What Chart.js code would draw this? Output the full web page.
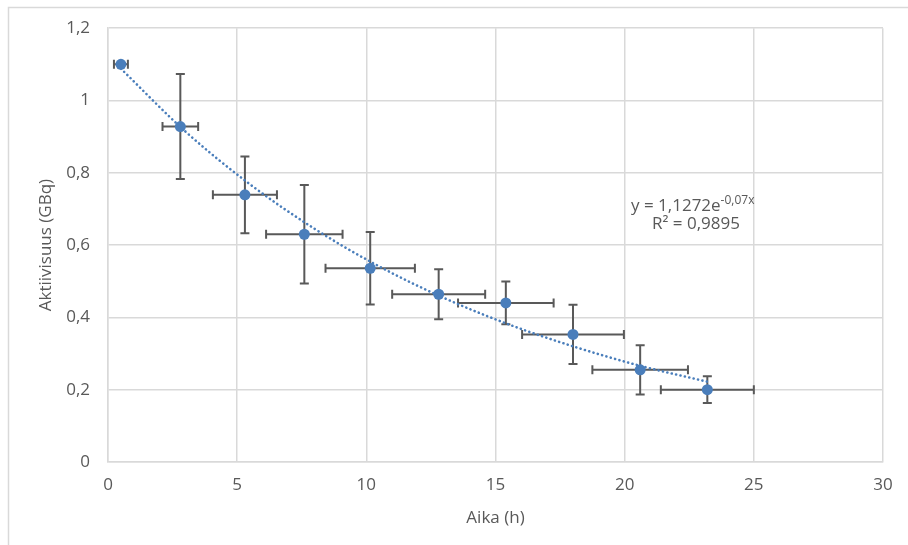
<!DOCTYPE html>
<html>
<head>
<meta charset="utf-8">
<script src="https://cdn.jsdelivr.net/npm/chart.js@4.4.1/dist/chart.umd.min.js"></script>
<style>
    html, body { margin: 0; padding: 0; background: #fff; }
    #wrap { width: 908px; height: 545px; }
</style>
</head>
<body>
<div id="wrap"><canvas id="myChart" width="908" height="545"></canvas></div>
<script>
// measured points (hours, GBq) and their errors
const times = [0.5, 2.8, 5.3, 7.6, 10.15, 12.8, 15.4, 18.0, 20.6, 23.2];
const activity = [1.10, 0.928, 0.739, 0.630, 0.536, 0.464, 0.440, 0.353, 0.255, 0.200];
const timeErr = [0.27, 0.69, 1.24, 1.48, 1.73, 1.8, 1.85, 1.97, 1.85, 1.8];
const activityErr = [0, 0.145, 0.106, 0.136, 0.10, 0.069, 0.059, 0.082, 0.068, 0.037];

// exponential trendline
const trendTimes = [0.5, 3, 5.5, 8, 10.5, 13, 15.5, 18, 20.5, 23.2];
const trendValues = [1.088, 0.914, 0.768, 0.645, 0.541, 0.454, 0.381, 0.320, 0.268, 0.222];

const xTicks = [0, 5, 10, 15, 20, 25, 30];
const yTicks = [0, 0.2, 0.4, 0.6, 0.8, 1, 1.2];

const textColor = '#595959';
const gridColor = '#d9d9d9';
const pointColor = '#4a7ebb';
const fontSize = 17;

function fmt(v) {
    return String(Math.round(v * 10) / 10).replace('.', ',');
}

const errorBars = {
    id: 'errorBars',
    beforeDatasetsDraw(chart) {
        const ctx = chart.ctx;
        const xs = chart.scales.x;
        const ys = chart.scales.y;
        const cap = 4.5;
        ctx.save();
        ctx.strokeStyle = '#595959';
        ctx.lineWidth = 2;
        for (let i = 0; i < times.length; i++) {
            const px = xs.getPixelForValue(times[i]);
            const py = ys.getPixelForValue(activity[i]);
            const x1 = xs.getPixelForValue(times[i] - timeErr[i]);
            const x2 = xs.getPixelForValue(times[i] + timeErr[i]);
            ctx.beginPath();
            ctx.moveTo(x1, py); ctx.lineTo(x2, py);
            ctx.moveTo(x1, py - cap); ctx.lineTo(x1, py + cap);
            ctx.moveTo(x2, py - cap); ctx.lineTo(x2, py + cap);
            if (activityErr[i] > 0) {
                const y1 = ys.getPixelForValue(activity[i] + activityErr[i]);
                const y2 = ys.getPixelForValue(activity[i] - activityErr[i]);
                ctx.moveTo(px, y1); ctx.lineTo(px, y2);
                ctx.moveTo(px - cap, y1); ctx.lineTo(px + cap, y1);
                ctx.moveTo(px - cap, y2); ctx.lineTo(px + cap, y2);
            }
            ctx.stroke();
        }
        ctx.restore();
    }
};

const frameAndText = {
    id: 'frameAndText',
    beforeDraw(chart) {
        const ctx = chart.ctx;
        ctx.save();
        ctx.fillStyle = '#fff';
        ctx.fillRect(0, 0, chart.width, chart.height);
        ctx.strokeStyle = gridColor;
        ctx.lineWidth = 1.5;
        ctx.strokeRect(8.5, 7.5, 2000, 2000);
        ctx.restore();
    },
    afterDraw(chart) {
        const ctx = chart.ctx;
        ctx.save();
        ctx.fillStyle = textColor;
        ctx.textBaseline = 'alphabetic';
        ctx.textAlign = 'left';
        ctx.font = fontSize + 'px "Open Sans"';
        const main = 'y = 1,1272e';
        ctx.fillText(main, 631, 211);
        const w = ctx.measureText(main).width;
        ctx.font = '12px "Open Sans"';
        ctx.fillText('-0,07x', 631 + w, 204);
        ctx.font = fontSize + 'px "Open Sans"';
        ctx.textAlign = 'center';
        ctx.fillText('R² = 0,9895', 696, 229);
        ctx.restore();
    }
};

const data = {
    datasets: [{
        label: 'Aktiivisuus',
        data: times.map((t, i) => ({ x: t, y: activity[i] })),
        showLine: false,
        pointRadius: 5.5,
        pointBackgroundColor: pointColor,
        pointBorderColor: pointColor,
        pointBorderWidth: 0
    }, {
        label: 'Trendi',
        data: trendTimes.map((t, i) => ({ x: t, y: trendValues[i] })),
        showLine: true,
        borderColor: pointColor,
        borderWidth: 2.6,
        borderDash: [0.1, 4.4],
        borderCapStyle: 'round',
        cubicInterpolationMode: 'monotone',
        pointRadius: 0,
        fill: false
    }]
};

const config = {
    type: 'scatter',
    data: data,
    options: {
        responsive: false,
        animation: false,
        layout: { padding: { left: 0, top: 28, right: 25, bottom: 0 } },
        plugins: {
            legend: { display: false },
            tooltip: { enabled: false }
        },
        scales: {
            x: {
                type: 'linear',
                min: 0,
                max: 30,
                afterBuildTicks: (scale) => { scale.ticks = xTicks.map(v => ({ value: v })); },
                afterFit: (scale) => { scale.height = 83; },
                grid: { color: gridColor, lineWidth: 1.5, drawTicks: false },
                border: { color: gridColor, width: 1.5 },
                ticks: {
                    color: textColor,
                    font: { family: 'Open Sans', size: fontSize },
                    padding: 13,
                    maxRotation: 0,
                    callback: (v) => fmt(v)
                },
                title: {
                    display: true,
                    text: 'Aika (h)',
                    color: textColor,
                    font: { family: 'Open Sans', size: fontSize },
                    padding: { top: 0, bottom: 17 }
                }
            },
            y: {
                type: 'linear',
                min: 0,
                max: 1.2,
                afterBuildTicks: (scale) => { scale.ticks = yTicks.map(v => ({ value: v })); },
                afterFit: (scale) => { scale.width = 108; },
                grid: { color: gridColor, lineWidth: 1.5, drawTicks: false },
                border: { color: gridColor, width: 1.5 },
                ticks: {
                    color: textColor,
                    font: { family: 'Open Sans', size: fontSize },
                    padding: 18,
                    callback: (v) => fmt(v)
                },
                title: {
                    display: true,
                    text: 'Aktiivisuus (GBq)',
                    color: textColor,
                    font: { family: 'Open Sans', size: fontSize },
                    padding: { top: 36, bottom: 0 }
                }
            }
        }
    },
    plugins: [frameAndText, errorBars]
};

const myChart = new Chart(document.getElementById('myChart'), config);
</script>
</body>
</html>
